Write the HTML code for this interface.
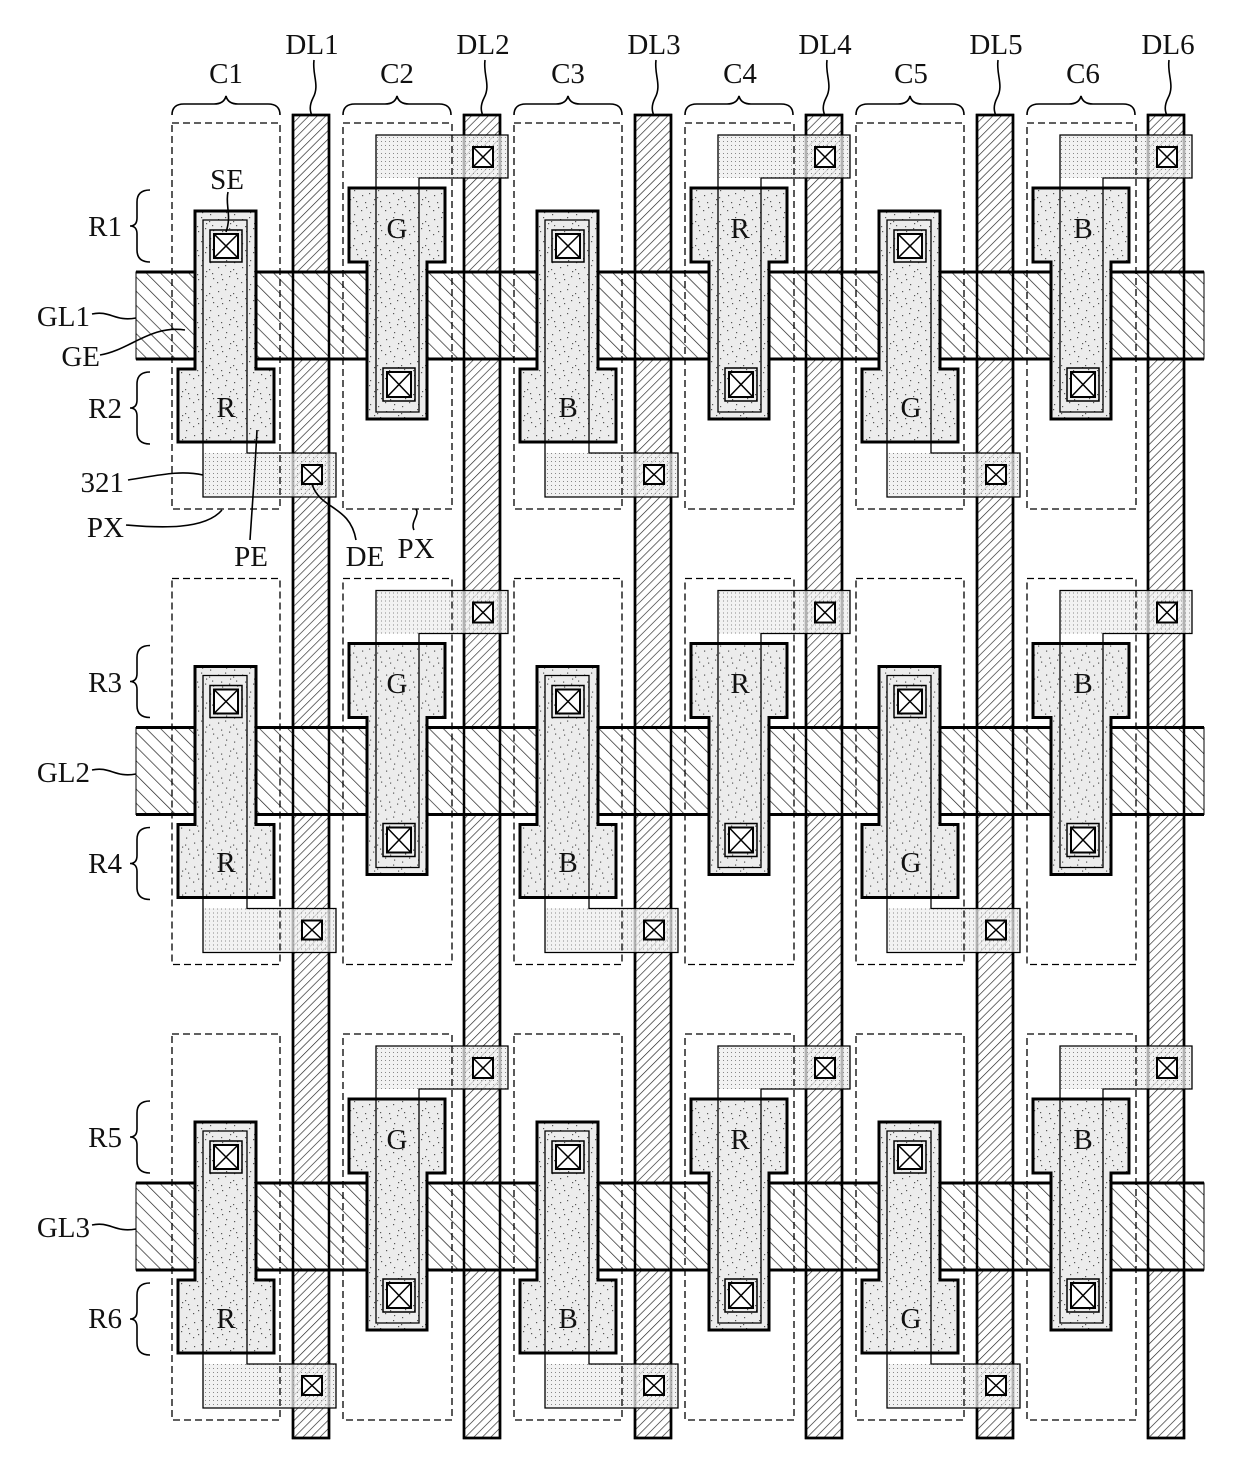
<!DOCTYPE html>
<html><head><meta charset="utf-8"><style>
html,body{margin:0;padding:0;background:#fff;}
text{font-family:"Liberation Serif",serif;font-size:29px;fill:#111;}
</style></head><body>
<svg width="1240" height="1478" viewBox="0 0 1240 1478" xmlns="http://www.w3.org/2000/svg">
<defs>
<pattern id="dh" width="6" height="6" patternUnits="userSpaceOnUse" patternTransform="rotate(45)">
<rect width="6" height="6" fill="#fff"/><line x1="0" y1="0" x2="0" y2="6" stroke="#222" stroke-width="1.3"/></pattern>
<pattern id="gh" width="10" height="10" patternUnits="userSpaceOnUse" patternTransform="rotate(-45)">
<rect width="10" height="10" fill="#fff"/><line x1="0" y1="0" x2="0" y2="10" stroke="#222" stroke-width="1.4"/></pattern>
<pattern id="st" width="24" height="24" patternUnits="userSpaceOnUse">
<rect width="24" height="24" fill="#ececec"/>
<g fill="#555"><rect x="2" y="3" width="1.2" height="1.2"/><rect x="9" y="1" width="1.2" height="1.2"/><rect x="17" y="5" width="1.2" height="1.2"/><rect x="5" y="10" width="1.2" height="1.2"/><rect x="13" y="12" width="1.2" height="1.2"/><rect x="21" y="14" width="1.2" height="1.2"/><rect x="1" y="18" width="1.2" height="1.2"/><rect x="10" y="20" width="1.2" height="1.2"/><rect x="18" y="22" width="1.2" height="1.2"/><rect x="14" y="7" width="1.2" height="1.2"/><rect x="6" y="15" width="1.2" height="1.2"/><rect x="20" y="9" width="1.2" height="1.2"/></g></pattern>
<pattern id="fd" width="4" height="4" patternUnits="userSpaceOnUse">
<rect x="1" y="1" width="1" height="1" fill="#888"/></pattern>
<g id="ca">
<rect x="203" y="453" width="133" height="44" fill="#eee" fill-opacity="0.75"/>
<rect x="203" y="453" width="133" height="44" fill="url(#fd)"/>
<path d="M195,211H256V369H274V442H178V369H195Z" fill="url(#st)" stroke="#000" stroke-width="3"/>
<path d="M203,220H247V453H336V497H203Z" fill="none" stroke="#000" stroke-width="1.3"/>
<rect x="210" y="230" width="32" height="32" fill="none" stroke="#000" stroke-width="1.5"/>
<rect x="214" y="234" width="24" height="24" fill="#fff" stroke="#000" stroke-width="2"/>
<path d="M214,234L238,258M238,234L214,258" stroke="#000" stroke-width="1.5"/>
<rect x="302" y="465" width="20" height="19" fill="#fff" stroke="#000" stroke-width="2"/>
<path d="M302,465L322,484M322,465L302,484" stroke="#000" stroke-width="1.5"/>
<rect x="172" y="123" width="108" height="386" fill="none" stroke="#000" stroke-width="1.3" stroke-dasharray="7,4"/>
</g>
<g id="cb">
<rect x="376" y="135" width="132" height="43" fill="#eee" fill-opacity="0.75"/>
<rect x="376" y="135" width="132" height="43" fill="url(#fd)"/>
<path d="M349,188H445V262H427V419H367V262H349Z" fill="url(#st)" stroke="#000" stroke-width="3"/>
<path d="M376,135H508V178H419V412H376Z" fill="none" stroke="#000" stroke-width="1.3"/>
<rect x="383" y="368" width="32" height="33" fill="none" stroke="#000" stroke-width="1.5"/>
<rect x="387" y="372" width="24" height="25" fill="#fff" stroke="#000" stroke-width="2"/>
<path d="M387,372L411,397M411,372L387,397" stroke="#000" stroke-width="1.5"/>
<rect x="473" y="147" width="20" height="20" fill="#fff" stroke="#000" stroke-width="2"/>
<path d="M473,147L493,167M493,147L473,167" stroke="#000" stroke-width="1.5"/>
<rect x="343" y="123" width="109" height="386" fill="none" stroke="#000" stroke-width="1.3" stroke-dasharray="7,4"/>
</g>
<g id="blk">
<use href="#ca"/><use href="#cb"/>
<use href="#ca" x="342"/><use href="#cb" x="342"/>
<use href="#ca" x="684"/><use href="#cb" x="684"/>
</g>
<rect id="dl" x="293" y="115" width="36" height="1323" fill="url(#dh)" stroke="#000" stroke-width="2.5"/>
<rect id="dlo" x="293" y="115" width="36" height="1323" fill="none" stroke="#000" stroke-width="2.5"/>
<rect id="gl" x="136" y="272" width="1068" height="87" fill="url(#gh)" stroke="#000" stroke-width="1"/>
</defs>

<!-- data lines -->
<use href="#dl"/><use href="#dl" x="171"/><use href="#dl" x="342"/><use href="#dl" x="513"/><use href="#dl" x="684"/><use href="#dl" x="855"/>
<!-- gate lines -->
<use href="#gl"/><use href="#gl" y="455.5"/><use href="#gl" y="911"/>
<g stroke="#000" stroke-width="3">
<line x1="136" y1="272" x2="1204" y2="272"/><line x1="136" y1="359" x2="1204" y2="359"/>
<line x1="136" y1="727.5" x2="1204" y2="727.5"/><line x1="136" y1="814.5" x2="1204" y2="814.5"/>
<line x1="136" y1="1183" x2="1204" y2="1183"/><line x1="136" y1="1270" x2="1204" y2="1270"/>
</g>
<use href="#dlo"/><use href="#dlo" x="171"/><use href="#dlo" x="342"/><use href="#dlo" x="513"/><use href="#dlo" x="684"/><use href="#dlo" x="855"/>
<!-- cells -->
<use href="#blk"/><use href="#blk" y="455.5"/><use href="#blk" y="911"/>

<!-- cell letters -->
<g text-anchor="middle">
<text x="226" y="417">R</text><text x="397" y="238">G</text><text x="568" y="417">B</text><text x="740" y="238">R</text><text x="911" y="417">G</text><text x="1083" y="238">B</text>
<text x="226" y="872">R</text><text x="397" y="693">G</text><text x="568" y="872">B</text><text x="740" y="693">R</text><text x="911" y="872">G</text><text x="1083" y="693">B</text>
<text x="226" y="1328">R</text><text x="397" y="1149">G</text><text x="568" y="1328">B</text><text x="740" y="1149">R</text><text x="911" y="1149" dx="0" dy="179">G</text><text x="1083" y="1149">B</text>
</g>

<!-- top labels -->
<g text-anchor="middle">
<text x="226" y="83">C1</text><text x="397" y="83">C2</text><text x="568" y="83">C3</text><text x="740" y="83">C4</text><text x="911" y="83">C5</text><text x="1083" y="83">C6</text>
<text x="312" y="54">DL1</text><text x="483" y="54">DL2</text><text x="654" y="54">DL3</text><text x="825" y="54">DL4</text><text x="996" y="54">DL5</text><text x="1168" y="54">DL6</text>
</g>
<g fill="none" stroke="#000" stroke-width="1.6">
<path id="br" d="M172,115 Q172,104 184,104 H214 Q224,104 226,96 Q228,104 238,104 H268 Q280,104 280,115"/>
<use href="#br" x="171"/><use href="#br" x="342"/><use href="#br" x="513"/><use href="#br" x="684"/><use href="#br" x="855"/>
<path id="ld" d="M314,60 C312,75 320,85 313,98 C309,106 310,111 312,116"/>
<use href="#ld" x="171"/><use href="#ld" x="342"/><use href="#ld" x="513"/><use href="#ld" x="684"/><use href="#ld" x="855"/>
<path id="rb" d="M150,190 Q137,190 137,202 V218 Q137,226 130,226 Q137,226 137,234 V250 Q137,262 150,262"/>
<use href="#rb" y="182"/>
<use href="#rb" y="455.5"/><use href="#rb" y="637.5"/>
<use href="#rb" y="911"/><use href="#rb" y="1093"/>
<!-- leaders -->
<path d="M92,314 C110,310 115,322 136,318"/>
<path d="M92,770 C110,766 115,778 136,774"/>
<path d="M92,1225 C110,1221 115,1233 136,1229"/>
<path d="M100,355 C130,350 150,325 185,330"/>
<path d="M128,480 C160,475 180,470 203,475"/>
<path d="M126,525 C160,528 205,530 222,510"/>
<path d="M250,540 C252,510 255,470 257,430"/>
<path d="M356,540 C350,505 320,510 312,484"/>
<path d="M414,530 C410,522 420,515 416,509"/>
<path d="M228,192 C225,205 232,215 226,232"/>
</g>
<!-- left labels -->
<g text-anchor="end">
<text x="122" y="236">R1</text><text x="122" y="418">R2</text>
<text x="122" y="692">R3</text><text x="122" y="873">R4</text>
<text x="122" y="1147">R5</text><text x="122" y="1328">R6</text>
<text x="90" y="326">GL1</text><text x="90" y="782">GL2</text><text x="90" y="1237">GL3</text>
<text x="100" y="366">GE</text>
<text x="124" y="492">321</text>
<text x="124" y="537">PX</text>
</g>
<g text-anchor="middle">
<text x="251" y="566">PE</text><text x="365" y="566">DE</text><text x="416" y="558">PX</text><text x="227" y="189">SE</text>
</g>
</svg>
</body></html>
